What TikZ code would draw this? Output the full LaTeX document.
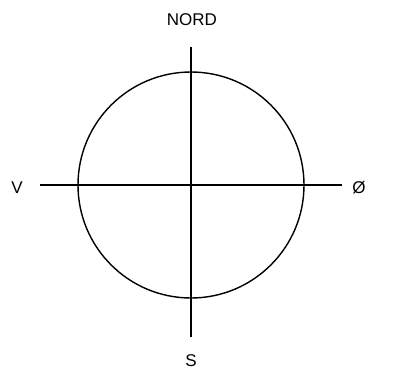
\documentclass[tikz,border=0pt]{standalone}
\usepackage{fontspec}
\setmainfont{Liberation Sans}
\begin{document}
\begin{tikzpicture}[x=1pt,y=-1pt,
  lbl/.style={font=\fontsize{17}{20}\selectfont, inner sep=0pt, anchor=base},
  ln/.style={line width=1.4pt, black}]
\useasboundingbox (0,0) rectangle (397,381);
\node[circle, draw, line width=1.4pt, minimum size=226pt, inner sep=0pt] (c) at (191,185) {};
\coordinate (w) at (40,185);
\coordinate (e) at (342,185);
\coordinate (n) at (191,47);
\coordinate (s) at (191,337);
\draw[ln] (w) -- (e);
\draw[ln] (n) -- (s);
\node[lbl] (nord) at (192,25) {NORD};
\node[lbl] (v) at (17,193) {V};
\node[lbl] (o) at (359,193) {Ø};
\node[lbl] (sl) at (191,366) {S};
\end{tikzpicture}
\end{document}
